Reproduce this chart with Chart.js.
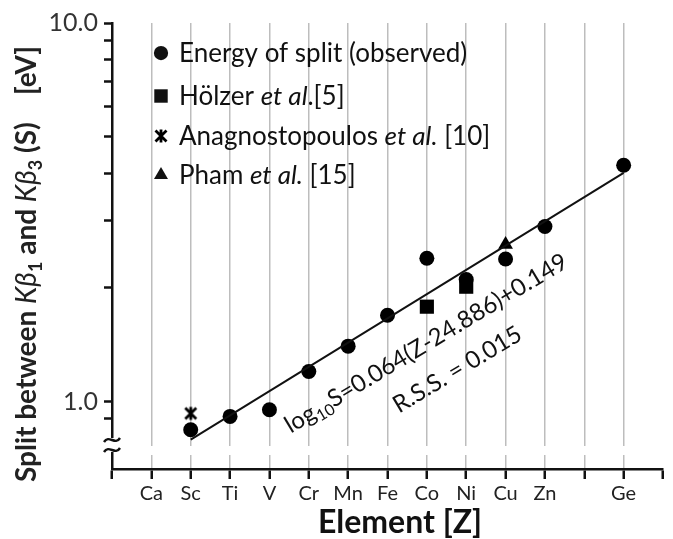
<!DOCTYPE html>
<html>
<head>
<meta charset="utf-8">
<script src="https://cdn.jsdelivr.net/npm/chart.js@4"></script>
<style>
  html, body { margin: 0; padding: 0; background: #fff; }
</style>
</head>
<body>
<canvas id="splitChart" width="673" height="539"></canvas>
<script>
// element symbols for Z = 20 .. 33 (Ga and As not labelled)
const firstZ = 20;
const elementLabels = ['Ca', 'Sc', 'Ti', 'V', 'Cr', 'Mn', 'Fe', 'Co', 'Ni', 'Cu', 'Zn', '', 'Ge', ''];

// Kb1 - Kb3 split [eV]
const observedZ = [21, 22, 23, 24, 25, 26, 27, 28, 29, 30, 32];
const observedS = [0.842, 0.913, 0.951, 1.20, 1.40, 1.69, 2.39, 2.10, 2.38, 2.90, 4.21];

const holzerZ = [27, 28];
const holzerS = [1.78, 2.01];

const anagZ = [21];
const anagS = [0.93];

const phamZ = [29];
const phamS = [2.60];

// ends of the log-linear fit
const fitZ = [21, 32];
const fitS = [0.793, 4.02];

const yTickValues = [0.9, 1, 2, 3, 4, 5, 6, 7, 8, 9, 10];

const FONT = 'Lato, "Open Sans", sans-serif';
Chart.defaults.font.family = FONT;

function toPoints(xs, ys) {
    return xs.map((x, i) => ({x: x, y: ys[i]}));
}

// asterisk marker: X plus a vertical bar
function makeStar() {
    const c = document.createElement('canvas');
    c.width = 16; c.height = 16;
    const g = c.getContext('2d');
    g.strokeStyle = '#000';
    g.lineWidth = 2.8;
    g.beginPath();
    g.moveTo(2.5, 2.5); g.lineTo(13.5, 13.5);
    g.moveTo(13.5, 2.5); g.lineTo(2.5, 13.5);
    g.moveTo(8, 1.5); g.lineTo(8, 14.5);
    g.stroke();
    return c;
}
const starImg = makeStar();

const markers = {
    observed: {pointStyle: 'circle', radius: 7.5},
    holzer: {pointStyle: 'rect', radius: 10},
    anag: {pointStyle: starImg, radius: 8},
    pham: {pointStyle: 'triangle', radius: 8.5}
};

function scatterSet(label, xs, ys, m) {
    return {
        type: 'scatter',
        label: label,
        data: toPoints(xs, ys),
        pointStyle: m.pointStyle,
        pointRadius: m.radius,
        pointHoverRadius: m.radius,
        backgroundColor: '#000',
        borderColor: '#000',
        borderWidth: 0
    };
}

// runs of text with their own fonts, drawn left to right on one baseline
function runsWidth(ctx, runs) {
    let w = 0;
    runs.forEach(r => { ctx.font = r.font; w += ctx.measureText(r.text).width; });
    return w;
}
function drawRuns(ctx, runs, x, y) {
    let cx = x;
    runs.forEach(r => {
        ctx.font = r.font;
        ctx.fillText(r.text, cx, y + (r.dy || 0));
        cx += ctx.measureText(r.text).width;
    });
}

const axisBreak = {
    id: 'axisBreak',
    beforeDatasetsDraw(chart) {
        const ctx = chart.ctx;
        const a = chart.chartArea;
        const x0 = chart.scales.y.right;
        ctx.save();
        ctx.fillStyle = '#fff';
        // gap in the grid lines
        ctx.fillRect(a.left + 2, a.bottom - 23, a.right - a.left, 9);
        // gap in the y axis
        ctx.fillRect(x0 - 10, a.bottom - 31, 20, 14);
        ctx.strokeStyle = '#111';
        ctx.lineWidth = 2.4;
        [a.bottom - 29, a.bottom - 19].forEach(yy => {
            ctx.beginPath();
            ctx.moveTo(x0 - 8, yy + 2);
            ctx.bezierCurveTo(x0 - 3, yy - 6, x0 + 3, yy + 6, x0 + 8, yy - 2);
            ctx.stroke();
        });
        ctx.restore();
    }
};

const textLayer = {
    id: 'textLayer',
    afterDraw(chart) {
        const ctx = chart.ctx;
        const xs = chart.scales.x, ys = chart.scales.y;
        ctx.save();
        ctx.fillStyle = '#111';
        ctx.textBaseline = 'alphabetic';

        // y axis title, rotated
        const b = 'bold 28px ' + FONT;
        const bi = 'italic 28px ' + FONT;
        const sub = 'bold 18px ' + FONT;
        const yRuns = [
            {text: 'Split between ', font: b},
            {text: 'K\u03B2', font: bi},
            {text: '1', font: sub, dy: 6},
            {text: ' and ', font: b},
            {text: 'K\u03B2', font: bi},
            {text: '3', font: sub, dy: 6},
            {text: ' (S)    [eV]', font: b}
        ];
        const yw = runsWidth(ctx, yRuns);
        ctx.save();
        ctx.fillStyle = '#222';
        ctx.translate(36, 264 + yw / 2);
        ctx.rotate(-Math.PI / 2);
        drawRuns(ctx, yRuns, 0, 0);
        ctx.restore();

        // x axis title
        ctx.font = 'bold 32px ' + FONT;
        ctx.textAlign = 'center';
        ctx.fillText('Element [Z]', 400, 533);
        ctx.textAlign = 'left';

        // legend
        const n = '26px ' + FONT;
        const it = 'italic 26px ' + FONT;
        const legendRows = [
            {m: markers.observed, runs: [{text: 'Energy of split (observed)', font: n}]},
            {m: markers.holzer, runs: [{text: 'H\u00F6lzer ', font: n}, {text: 'et al', font: it}, {text: '.[5]', font: n}]},
            {m: markers.anag, runs: [{text: 'Anagnostopoulos ', font: n}, {text: 'et al.', font: it}, {text: ' [10]', font: n}]},
            {m: markers.pham, runs: [{text: 'Pham ', font: n}, {text: 'et al.', font: it}, {text: ' [15]', font: n}]}
        ];
        const rowY = [53, 96, 136, 175];
        legendRows.forEach((row, i) => {
            Chart.helpers.drawPoint(ctx, {
                pointStyle: row.m.pointStyle, radius: row.m.radius * 0.95, rotation: 0, borderWidth: 0
            }, 161, rowY[i]);
            ctx.fillStyle = '#111';
            drawRuns(ctx, row.runs, 179, rowY[i] + 9);
        });

        // fit equation and residual sum, along the line
        const ang = -31 * Math.PI / 180;
        const f = '24px ' + FONT;
        const fs = '16px ' + FONT;
        ctx.save();
        ctx.translate(xs.getPixelForValue(23.54), ys.getPixelForValue(0.821));
        ctx.rotate(ang);
        drawRuns(ctx, [
            {text: 'log', font: f},
            {text: '10', font: fs, dy: 5},
            {text: 'S=0.064(Z-24.886)+0.149', font: f}
        ], 0, 0);
        ctx.restore();
        ctx.save();
        ctx.translate(xs.getPixelForValue(26.29), ys.getPixelForValue(0.928));
        ctx.rotate(ang);
        ctx.font = f;
        ctx.fillText('R.S.S. = 0.015', 0, 0);
        ctx.restore();

        ctx.restore();
    }
};

const ctx = document.getElementById('splitChart').getContext('2d');
const splitChart = new Chart(ctx, {
    type: 'scatter',
    data: {
        datasets: [
            {
                type: 'line',
                label: 'fit',
                data: toPoints(fitZ, fitS),
                borderColor: '#111',
                borderWidth: 2,
                pointRadius: 0,
                fill: false
            },
            scatterSet('Energy of split (observed)', observedZ, observedS, markers.observed),
            scatterSet('H\u00F6lzer et al.[5]', holzerZ, holzerS, markers.holzer),
            scatterSet('Anagnostopoulos et al. [10]', anagZ, anagS, markers.anag),
            scatterSet('Pham et al. [15]', phamZ, phamS, markers.pham)
        ]
    },
    options: {
        responsive: false,
        animation: false,
        devicePixelRatio: 1,
        layout: {padding: {top: 23, right: 6, left: 0, bottom: 0}},
        plugins: {
            legend: {display: false},
            tooltip: {enabled: false}
        },
        scales: {
            x: {
                type: 'linear',
                min: firstZ - 1,
                max: firstZ + elementLabels.length - 1,
                afterFit: s => { s.height = 70; },
                ticks: {
                    stepSize: 1,
                    autoSkip: false,
                    maxRotation: 0,
                    padding: 3,
                    color: '#222',
                    font: {size: 20},
                    callback: v => elementLabels[v - firstZ] || ''
                },
                grid: {
                    color: c => (c.tick && c.tick.value >= firstZ && c.tick.value <= 32) ? '#bdbdbd' : 'rgba(0,0,0,0)',
                    lineWidth: 1.5,
                    tickColor: '#111',
                    tickWidth: 2.5,
                    tickLength: 10
                },
                border: {color: '#111', width: 2.5}
            },
            y: {
                type: 'logarithmic',
                min: 0.663,
                max: 10,
                afterFit: s => { s.width = 112; },
                afterBuildTicks: s => { s.ticks = yTickValues.map(v => ({value: v})); },
                ticks: {
                    padding: 6,
                    color: '#333',
                    font: {size: 25},
                    callback: v => v === 10 ? '10.0' : (v === 1 ? '1.0' : '')
                },
                grid: {
                    drawOnChartArea: false,
                    tickColor: '#111',
                    tickWidth: 2.5,
                    tickLength: 8
                },
                border: {color: '#111', width: 2.5}
            }
        }
    },
    plugins: [axisBreak, textLayer]
});
</script>
</body>
</html>
